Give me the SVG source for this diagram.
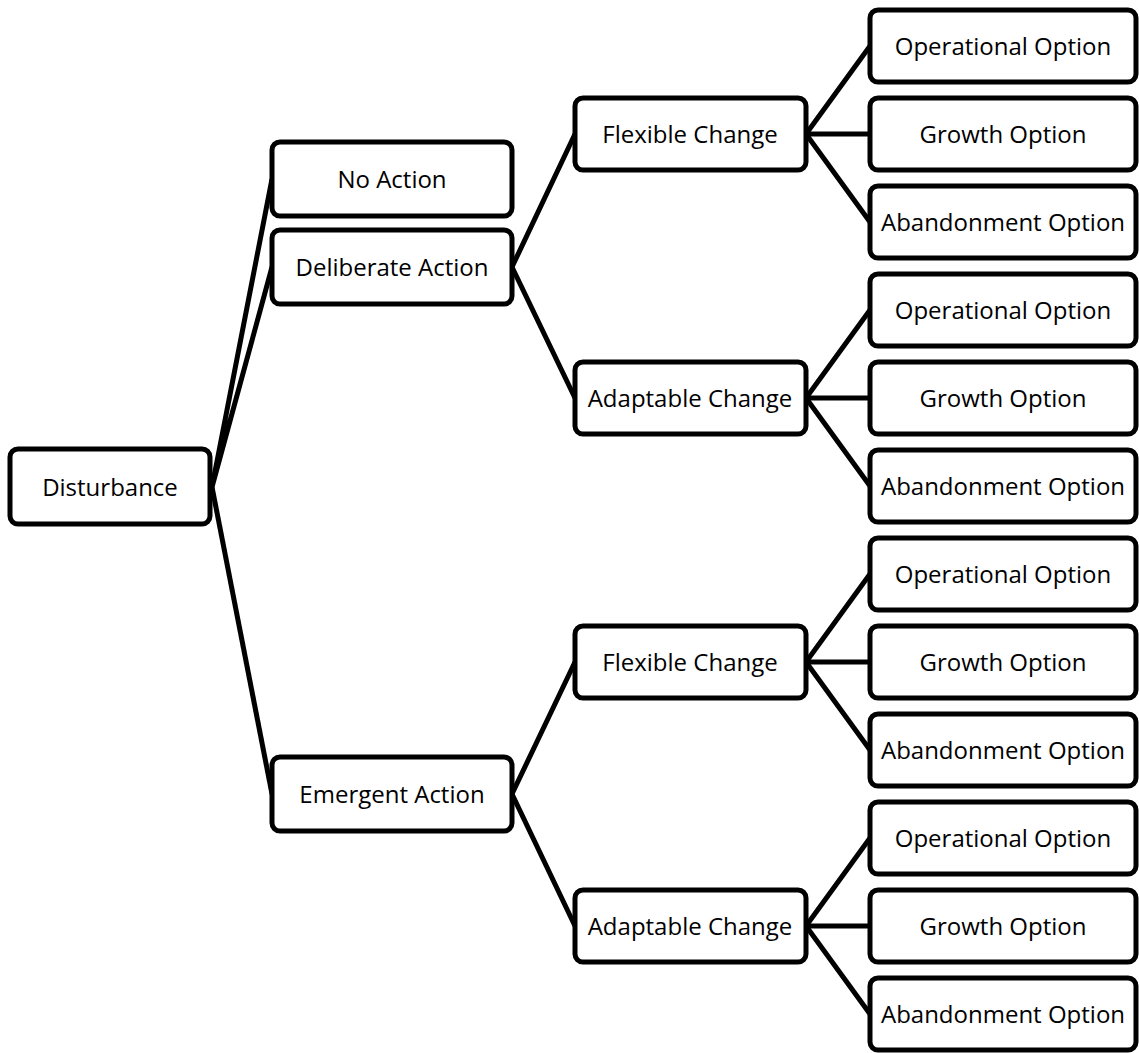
<svg xmlns="http://www.w3.org/2000/svg" width="1139" height="1053" viewBox="0 0 1139 1053">
  <style>
    .box { fill: #ffffff; stroke: #000000; stroke-width: 5; }
    .lbl { font-family: "Open Sans", "Noto Sans", "Liberation Sans", sans-serif; font-size: 24px; fill: #000000; text-anchor: middle; }
    .edge { stroke: #000000; stroke-width: 5; fill: none; }
  </style>
  <rect width="1139" height="1053" fill="#ffffff"/>

  <!-- connectors -->
  <g id="connectors" class="edge">
    <!-- root to actions -->
    <polyline points="272,179 212,487 272,267"/>
    <line x1="212" y1="487" x2="272" y2="794"/>
    <!-- actions to changes -->
    <polyline points="575,134 512,267 575,398"/>
    <polyline points="575,662 512,794 575,926"/>
    <!-- changes to options -->
    <polyline points="870,46 806,134 870,222"/>
    <line x1="806" y1="134" x2="870" y2="134"/>
    <polyline points="870,310 806,398 870,486"/>
    <line x1="806" y1="398" x2="870" y2="398"/>
    <polyline points="870,574 806,662 870,750"/>
    <line x1="806" y1="662" x2="870" y2="662"/>
    <polyline points="870,838 806,926 870,1014"/>
    <line x1="806" y1="926" x2="870" y2="926"/>
  </g>

  <!-- root -->
  <g id="disturbance">
    <rect class="box" x="10" y="449" width="200" height="75" rx="8"/>
    <text class="lbl" x="110" y="495.5">Disturbance</text>
  </g>

  <!-- actions -->
  <g id="no-action">
    <rect class="box" x="272" y="142" width="240" height="74" rx="8"/>
    <text class="lbl" x="392" y="187.5">No Action</text>
  </g>
  <g id="deliberate-action">
    <rect class="box" x="272" y="230" width="240" height="74" rx="8"/>
    <text class="lbl" x="392" y="275.5">Deliberate Action</text>
  </g>
  <g id="emergent-action">
    <rect class="box" x="272" y="757" width="240" height="74" rx="8"/>
    <text class="lbl" x="392" y="802.5">Emergent Action</text>
  </g>

  <!-- changes -->
  <g id="deliberate-flexible">
    <rect class="box" x="575" y="98" width="231" height="72" rx="8"/>
    <text class="lbl" x="690" y="142.5">Flexible Change</text>
  </g>
  <g id="deliberate-adaptable">
    <rect class="box" x="575" y="362" width="231" height="72" rx="8"/>
    <text class="lbl" x="690" y="406.5">Adaptable Change</text>
  </g>
  <g id="emergent-flexible">
    <rect class="box" x="575" y="626" width="231" height="72" rx="8"/>
    <text class="lbl" x="690" y="670.5">Flexible Change</text>
  </g>
  <g id="emergent-adaptable">
    <rect class="box" x="575" y="890" width="231" height="72" rx="8"/>
    <text class="lbl" x="690" y="934.5">Adaptable Change</text>
  </g>

  <!-- options -->
  <g id="df-operational">
    <rect class="box" x="870" y="10" width="266" height="72" rx="8"/>
    <text class="lbl" x="1003" y="54.5">Operational Option</text>
  </g>
  <g id="df-growth">
    <rect class="box" x="870" y="98" width="266" height="72" rx="8"/>
    <text class="lbl" x="1003" y="142.5">Growth Option</text>
  </g>
  <g id="df-abandonment">
    <rect class="box" x="870" y="186" width="266" height="72" rx="8"/>
    <text class="lbl" x="1003" y="230.5">Abandonment Option</text>
  </g>
  <g id="da-operational">
    <rect class="box" x="870" y="274" width="266" height="72" rx="8"/>
    <text class="lbl" x="1003" y="318.5">Operational Option</text>
  </g>
  <g id="da-growth">
    <rect class="box" x="870" y="362" width="266" height="72" rx="8"/>
    <text class="lbl" x="1003" y="406.5">Growth Option</text>
  </g>
  <g id="da-abandonment">
    <rect class="box" x="870" y="450" width="266" height="72" rx="8"/>
    <text class="lbl" x="1003" y="494.5">Abandonment Option</text>
  </g>
  <g id="ef-operational">
    <rect class="box" x="870" y="538" width="266" height="72" rx="8"/>
    <text class="lbl" x="1003" y="582.5">Operational Option</text>
  </g>
  <g id="ef-growth">
    <rect class="box" x="870" y="626" width="266" height="72" rx="8"/>
    <text class="lbl" x="1003" y="670.5">Growth Option</text>
  </g>
  <g id="ef-abandonment">
    <rect class="box" x="870" y="714" width="266" height="72" rx="8"/>
    <text class="lbl" x="1003" y="758.5">Abandonment Option</text>
  </g>
  <g id="ea-operational">
    <rect class="box" x="870" y="802" width="266" height="72" rx="8"/>
    <text class="lbl" x="1003" y="846.5">Operational Option</text>
  </g>
  <g id="ea-growth">
    <rect class="box" x="870" y="890" width="266" height="72" rx="8"/>
    <text class="lbl" x="1003" y="934.5">Growth Option</text>
  </g>
  <g id="ea-abandonment">
    <rect class="box" x="870" y="978" width="266" height="72" rx="8"/>
    <text class="lbl" x="1003" y="1022.5">Abandonment Option</text>
  </g>
</svg>
